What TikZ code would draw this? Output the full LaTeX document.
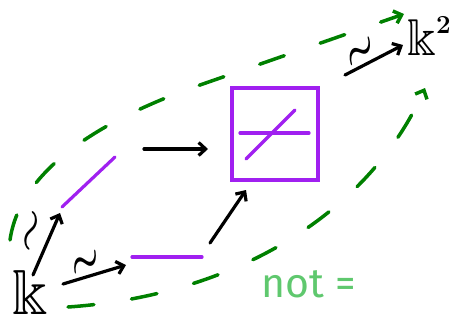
\documentclass[tikz,border=0pt]{standalone}
\usepackage{amssymb}
\usepackage{fontspec}
\usetikzlibrary{arrows.meta,calc}
\definecolor{lpurple}{RGB}{160,32,240}
\definecolor{dgreen}{RGB}{0,128,0}
\definecolor{lgreen}{RGB}{95,200,110}
\begin{document}
\begin{tikzpicture}[x=1pt,y=-1pt,
  arr/.style={line width=3.2pt, line cap=round, -{Straight Barb[length=7pt,width=13pt]}},
  pline/.style={draw=lpurple, line width=3.2pt, line cap=round},
  gdash/.style={draw=dgreen, line width=3.5pt, line cap=round, dash pattern=on 26pt off 38pt,
    -{Straight Barb[length=7pt,width=13pt]}},
  tl/.style={font=\fontsize{20}{20}\selectfont\boldmath, inner sep=0pt, xscale=1.5, yscale=2.4},
  bigk/.style={inner sep=0pt}]
\useasboundingbox (0,0) rectangle (454,327);
% green dashed curves
\draw[gdash] (10,240) .. controls (20,170) and (100,120) .. (200,85) -- (404,14);
\draw[gdash] (68,307) .. controls (240,295) and (370,210) .. (425,88);
% objects
\node[bigk, font=\fontsize{64}{64}\selectfont] (k) at (30,292) {$\Bbbk$};
\node[bigk, font=\fontsize{52}{52}\selectfont, anchor=west] (k2) at (407,36)
  {$\Bbbk$\raisebox{22pt}{\fontsize{26}{26}\selectfont\bfseries 2}};
\coordinate (l1a) at (62,207);
\coordinate (l1b) at (115,157);
\coordinate (l2a) at (132,257);
\coordinate (l2b) at (202,257);
\draw[pline] (l1a) -- (l1b);
\draw[pline] (l2a) -- (l2b);
\node[pline, minimum width=86pt, minimum height=92pt, inner sep=0pt] (box) at (275,134) {};
\draw[pline] ($(box.center)+(-35,-1)$) -- ($(box.center)+(34,-1)$);
\draw[pline] ($(box.center)+(-29,25)$) -- ($(box.center)+(20,-24)$);
% arrow end points
\coordinate (a1s) at (33,275);
\coordinate (a1e) at (60,213);
\coordinate (a2s) at (63,284);
\coordinate (a2e) at (126,265);
\coordinate (a3s) at (144,149);
\coordinate (a3e) at (208,149);
\coordinate (a4s) at (210,243);
\coordinate (a4e) at (246,190);
\coordinate (a5s) at (345,75);
\coordinate (a5e) at (403,45);
\draw[arr] (a1s) -- (a1e);
\draw[arr] (a2s) -- (a2e);
\draw[arr] (a3s) -- (a3e);
\draw[arr] (a4s) -- (a4e);
\draw[arr] (a5s) -- (a5e);
% tilde labels
\node[tl, rotate=66, yscale=0.85] (t1) at (32,232) {$\sim$};
\node[tl, rotate=17] (t2) at (86,265) {$\sim$};
\node[tl, rotate=27] (t5) at (361,54) {$\sim$};
% text
\node[text=lgreen, font=\fontspec{Fira Sans}\fontsize{41}{41}\selectfont, inner sep=0pt] (nq) at (309,284) {not =};
\end{tikzpicture}
\end{document}
